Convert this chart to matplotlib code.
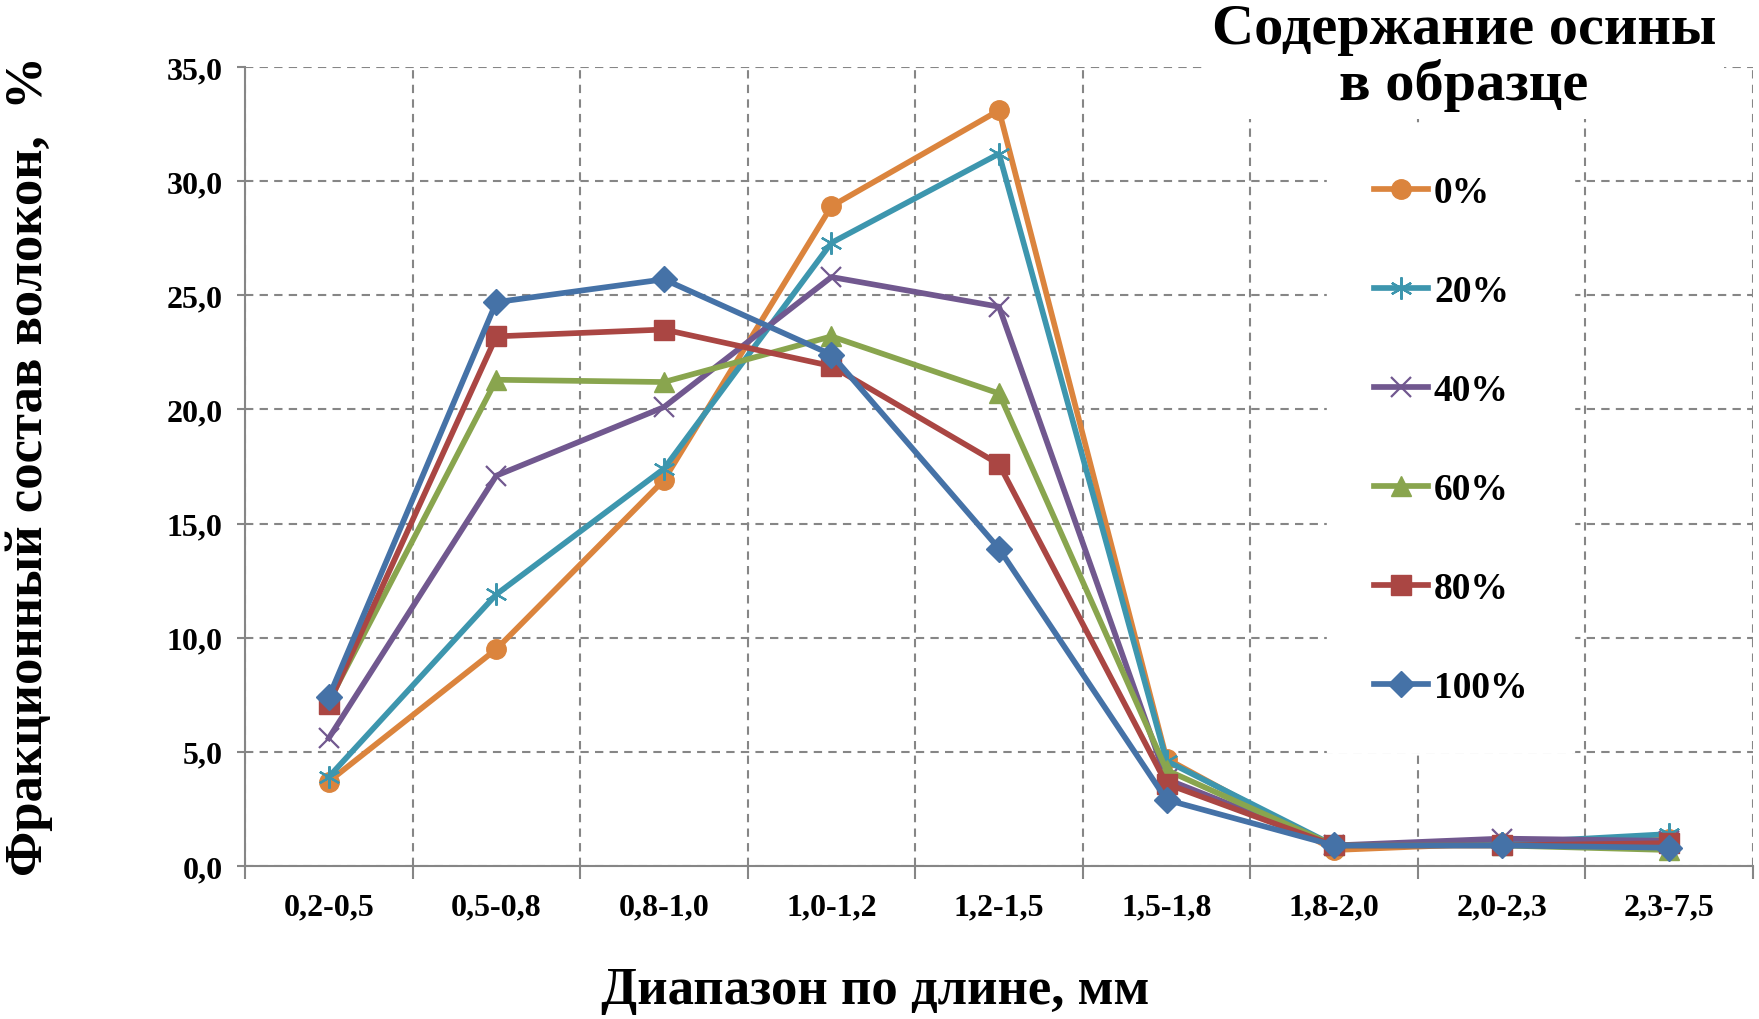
import matplotlib
matplotlib.use("Agg")
import matplotlib.pyplot as plt
import numpy as np

# data
categories = ["0,2-0,5", "0,5-0,8", "0,8-1,0", "1,0-1,2", "1,2-1,5",
              "1,5-1,8", "1,8-2,0", "2,0-2,3", "2,3-7,5"]
series_names = ["0%", "20%", "40%", "60%", "80%", "100%"]
s0 = [3.7, 9.5, 16.9, 28.9, 33.1, 4.7, 0.7, 1.0, 1.2]
s20 = [3.9, 11.9, 17.4, 27.3, 31.2, 4.6, 0.9, 1.0, 1.4]
s40 = [5.6, 17.1, 20.1, 25.8, 24.5, 3.8, 0.9, 1.2, 1.1]
s60 = [7.2, 21.3, 21.2, 23.2, 20.7, 4.2, 0.9, 0.9, 0.7]
s80 = [7.1, 23.2, 23.5, 21.9, 17.6, 3.6, 0.9, 0.9, 1.0]
s100 = [7.4, 24.7, 25.7, 22.4, 13.9, 2.9, 0.9, 0.9, 0.8]
yticks = [0, 5, 10, 15, 20, 25, 30, 35]

colors = ["#DB843D", "#3D96AE", "#71588F", "#89A54E", "#AA4643", "#4572A7"]
markers = ["o", (6, 2, 0), "x", "^", "s", "D"]
msizes = [14, 16, 15, 14, 14, 13]

plt.rcParams['font.family'] = ['Liberation Serif', 'DejaVu Serif']
plt.rcParams['font.weight'] = 'bold'

W, H = 1759, 1020
fig = plt.figure(figsize=(W / 100, H / 100), dpi=100)
L, R, T, B = 245, 1753, 68, 867
ax = fig.add_axes([L / W, 1 - B / H, (R - L) / W, (B - T) / H])

x = np.arange(len(categories))
data = [s0, s20, s40, s60, s80, s100]
for name, vals, c, m, ms in zip(series_names, data, colors, markers, msizes):
    hollow = m in ("x",) or isinstance(m, tuple)
    ax.plot(x, vals, color=c, lw=4.1, marker=m, markersize=ms,
            markerfacecolor=c, markeredgecolor=c,
            markeredgewidth=1.6 if hollow else 1.0,
            label=name, zorder=3, solid_joinstyle='round')

ax.set_xlim(-0.5, len(categories) - 0.5)
ax.set_ylim(0, 35)
ax.set_yticks(yticks)
ax.yaxis.set_major_formatter(plt.FuncFormatter(lambda v, p: ("%.1f" % v).replace(".", ",")))
ax.set_xticks(x)
ax.set_xticklabels(categories)
ax.set_xticks(np.arange(-0.5, len(categories), 1.0), minor=True)

grid_kw = dict(color="#868686", linestyle=(0, (4, 3)), linewidth=1.5)
ax.yaxis.grid(True, which='major', **grid_kw)
ax.xaxis.grid(True, which='minor', **grid_kw)
ax.xaxis.grid(False, which='major')
ax.set_axisbelow(True)

for side in ["top", "right"]:
    ax.spines[side].set_visible(False)
for side in ["left", "bottom"]:
    ax.spines[side].set_color("#868686")
    ax.spines[side].set_linewidth(1.5)

ax.tick_params(axis='y', which='major', direction='out', length=6, width=1.5,
               color="#868686", labelsize=23, pad=10)
ax.tick_params(axis='x', which='major', length=0, labelsize=23, pad=19)
ax.tick_params(axis='x', which='minor', direction='out', length=9, width=1.5,
               color="#868686")

ax.set_ylabel("Фракционный состав волокон,  %", fontsize=38, fontweight='bold')
ax.yaxis.set_label_coords(-0.127, 0.502)
ax.set_xlabel("Диапазон по длине, мм", fontsize=38, fontweight='bold')
ax.xaxis.set_label_coords(0.418, -0.125)

leg = ax.legend(loc='upper left', bbox_to_anchor=(1327 / W, 1 - 129 / H),
                bbox_transform=fig.transFigure, frameon=True, fancybox=False,
                fontsize=27, handlelength=1.45, handletextpad=0.15,
                labelspacing=1.71, borderpad=1.25, borderaxespad=0)
leg.get_frame().set_facecolor("white")
leg.get_frame().set_edgecolor("white")
leg.get_frame().set_alpha(1.0)

fig.text(1464 / W, 1 - 58 / H, "Содержание осины\nв образце", ha='center',
         va='center', fontsize=42, fontweight='bold', linespacing=1.06,
         bbox=dict(facecolor='white', edgecolor='none', pad=6))

fig.savefig("out.png", dpi=100)
